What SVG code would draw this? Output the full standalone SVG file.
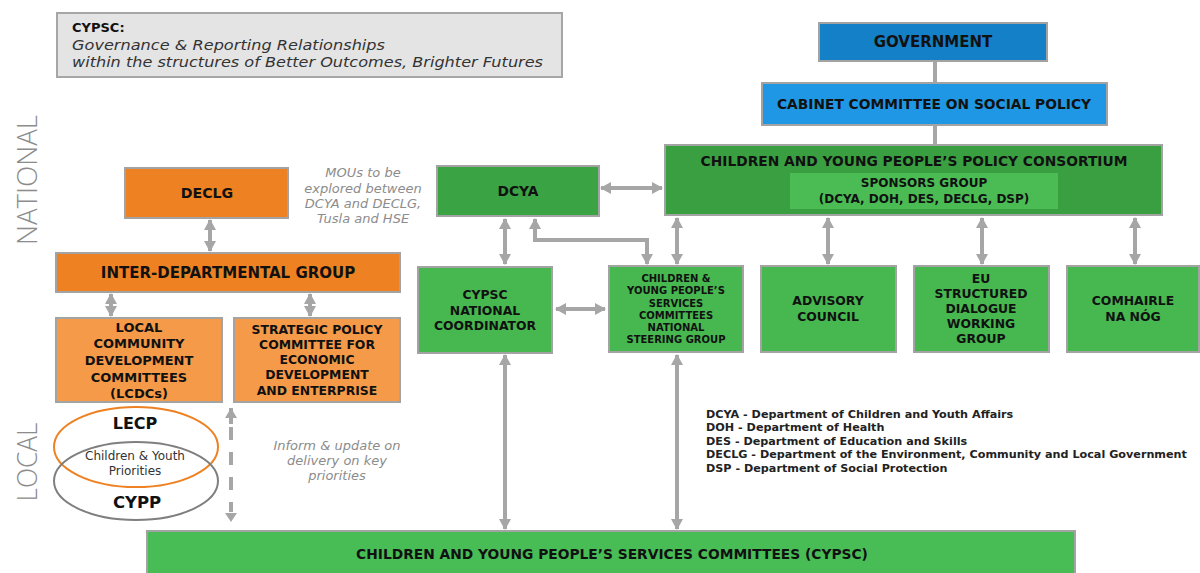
<svg xmlns="http://www.w3.org/2000/svg" width="1200" height="573" viewBox="0 0 1200 573">
<defs>
<marker id="ah" markerUnits="userSpaceOnUse" markerWidth="12" markerHeight="12" viewBox="0 0 12 12" refX="10" refY="6" orient="auto-start-reverse"><path d="M0,0 L11,6 L0,12 Z" fill="#a6a6a6"/></marker>
</defs>
<style>
.box{stroke:#a3a3a3;stroke-width:2}
.t{font-family:"DejaVu Sans","Open Sans",sans-serif;font-weight:bold;fill:#111;text-anchor:middle}
.s14{font-size:13.8px}.s12{font-size:12.4px}.s10{font-size:10px}
.it{font-family:"DejaVu Sans",sans-serif;font-style:italic;font-size:13px;fill:#8c8c8c;text-anchor:middle}
.leg{font-family:"DejaVu Sans",sans-serif;font-weight:bold;font-size:11.2px;fill:#222}
.side{font-family:"Open Sans","DejaVu Sans",sans-serif;font-weight:300;font-size:27px;fill:#8c8c8c;text-anchor:middle}
.c{stroke:#a6a6a6;stroke-width:4;fill:none}
.d{marker-start:url(#ah);marker-end:url(#ah)}
</style>
<g id="title">
<rect x="57" y="13" width="505" height="64" fill="#e4e4e4" stroke="#a6a6a6" stroke-width="2"/>
<text x="72" y="32" font-family="DejaVu Sans, sans-serif" font-weight="bold" font-size="13px" fill="#111">CYPSC:</text>
<text x="72" y="50" font-family="DejaVu Sans, sans-serif" font-style="italic" font-size="14px" fill="#333" textLength="313" lengthAdjust="spacingAndGlyphs">Governance &amp; Reporting Relationships</text>
<text x="72" y="67" font-family="DejaVu Sans, sans-serif" font-style="italic" font-size="14px" fill="#333" textLength="471" lengthAdjust="spacingAndGlyphs">within the structures of Better Outcomes, Brighter Futures</text>
</g>
<g id="side-labels">
<text class="side" transform="translate(37,180) rotate(-90)" textLength="130" lengthAdjust="spacingAndGlyphs">NATIONAL</text>
<text class="side" transform="translate(37,462) rotate(-90)" textLength="79" lengthAdjust="spacingAndGlyphs">LOCAL</text>
</g>
<g id="connectors">
<line class="c" x1="935" y1="61" x2="935" y2="84" stroke-width="3"/>
<line class="c" x1="935" y1="125" x2="935" y2="146" stroke-width="3"/>
<line class="c d" x1="601" y1="188" x2="662" y2="188"/>
<line class="c d" x1="505" y1="219" x2="505" y2="264"/>
<path class="c d" d="M535,219 V240 H647 V264"/>
<line class="c d" x1="677" y1="218" x2="677" y2="264"/>
<line class="c d" x1="828" y1="218" x2="828" y2="264"/>
<line class="c d" x1="982" y1="218" x2="982" y2="264"/>
<line class="c d" x1="1135" y1="218" x2="1135" y2="264"/>
<line class="c d" x1="556" y1="309" x2="605" y2="309"/>
<line class="c d" x1="505" y1="355" x2="505" y2="529" stroke-width="3"/>
<line class="c d" x1="677" y1="355" x2="677" y2="529" stroke-width="3"/>
<line class="c d" x1="210" y1="220" x2="210" y2="251"/>
<line class="c d" x1="111" y1="294" x2="111" y2="316"/>
<line class="c d" x1="310" y1="294" x2="310" y2="316"/>
<line class="c" x1="231" y1="408" x2="231" y2="424"/>
<path d="M225,418 L231,408 L237,418 Z" fill="#a6a6a6"/>
<line class="c" x1="231" y1="427" x2="231" y2="512" stroke-dasharray="13,12"/>
<path d="M225,513 L231,522 L237,513 Z" fill="#a6a6a6"/>
</g>
<g id="government">
<rect class="box" x="819" y="23" width="228" height="38" fill="#1480c8"/>
<text class="t" font-size="15px" x="933" y="47">GOVERNMENT</text>
</g>
<g id="cabinet">
<rect class="box" x="762" y="83" width="345" height="42" fill="#1f97e4"/>
<text class="t s14" x="934" y="109">CABINET COMMITTEE ON SOCIAL POLICY</text>
</g>
<g id="consortium">
<rect class="box" x="665" y="145" width="497" height="70" fill="#3a9f41"/>
<text class="t s14" x="914" y="166">CHILDREN AND YOUNG PEOPLE’S POLICY CONSORTIUM</text>
<rect x="790" y="173" width="268" height="36" fill="#4bbb54"/>
<text class="t" font-size="12px" x="924" y="187">SPONSORS GROUP</text>
<text class="t" font-size="12px" x="924" y="203">(DCYA, DOH, DES, DECLG, DSP)</text>
</g>
<g id="dcya">
<rect class="box" x="437" y="166" width="162" height="50" fill="#3aa444"/>
<text class="t s14" x="518" y="196">DCYA</text>
</g>
<g id="declg">
<rect class="box" x="125" y="168" width="163" height="50" fill="#ee8121"/>
<text class="t" font-size="14.2px" x="207" y="198">DECLG</text>
</g>
<g id="mou-note">
<text class="it" x="363" y="177">MOUs to be</text>
<text class="it" x="363" y="193">explored between</text>
<text class="it" x="363" y="208">DCYA and DECLG,</text>
<text class="it" x="363" y="223">Tusla and HSE</text>
</g>
<g id="interdept">
<rect class="box" x="56" y="253" width="344" height="39" fill="#ee8121"/>
<text class="t" font-size="15px" x="228" y="278">INTER-DEPARTMENTAL GROUP</text>
</g>
<g id="lcdc">
<rect class="box" x="56" y="318" width="166" height="84" fill="#f59a48"/>
<text class="t" font-size="13px" x="139" y="332">LOCAL</text>
<text class="t" font-size="13px" x="139" y="348">COMMUNITY</text>
<text class="t" font-size="13px" x="139" y="365">DEVELOPMENT</text>
<text class="t" font-size="13px" x="139" y="382">COMMITTEES</text>
<text class="t" font-size="13px" x="139" y="398">(LCDCs)</text>
</g>
<g id="spc">
<rect class="box" x="234" y="318" width="166" height="84" fill="#f59a48"/>
<text class="t s12" x="317" y="334">STRATEGIC POLICY</text>
<text class="t s12" x="317" y="349">COMMITTEE FOR</text>
<text class="t s12" x="317" y="364">ECONOMIC</text>
<text class="t s12" x="317" y="379">DEVELOPMENT</text>
<text class="t s12" x="317" y="395">AND ENTERPRISE</text>
</g>
<g id="national-coordinator">
<rect class="box" x="418" y="267" width="134" height="86" fill="#47b74f"/>
<text class="t s12" x="485" y="299">CYPSC</text>
<text class="t s12" x="485" y="315">NATIONAL</text>
<text class="t s12" x="485" y="330">COORDINATOR</text>
</g>
<g id="steering-group">
<rect class="box" x="609" y="266" width="134" height="86" fill="#47b74f"/>
<text class="t s10" x="676" y="282">CHILDREN &amp;</text>
<text class="t s10" x="676" y="294">YOUNG PEOPLE’S</text>
<text class="t s10" x="676" y="307">SERVICES</text>
<text class="t s10" x="676" y="319">COMMITTEES</text>
<text class="t s10" x="676" y="331">NATIONAL</text>
<text class="t s10" x="676" y="343">STEERING GROUP</text>
</g>
<g id="advisory">
<rect class="box" x="761" y="266" width="135" height="86" fill="#47b74f"/>
<text class="t s12" x="828" y="305">ADVISORY</text>
<text class="t s12" x="828" y="321">COUNCIL</text>
</g>
<g id="eu-dialogue">
<rect class="box" x="914" y="266" width="135" height="86" fill="#47b74f"/>
<text class="t s12" x="981" y="283">EU</text>
<text class="t s12" x="981" y="298">STRUCTURED</text>
<text class="t s12" x="981" y="313">DIALOGUE</text>
<text class="t s12" x="981" y="328">WORKING</text>
<text class="t s12" x="981" y="343">GROUP</text>
</g>
<g id="comhairle">
<rect class="box" x="1067" y="266" width="132" height="86" fill="#47b74f"/>
<text class="t s12" x="1133" y="305">COMHAIRLE</text>
<text class="t s12" x="1133" y="321">NA NÓG</text>
</g>
<g id="lecp-cypp">
<ellipse cx="136" cy="447" rx="82" ry="40" fill="none" stroke="#ee8121" stroke-width="2"/>
<ellipse cx="136" cy="481" rx="82" ry="39" fill="none" stroke="#7f7f7f" stroke-width="2"/>
<text class="t" font-size="16px" x="135" y="429">LECP</text>
<text x="135" y="460" font-family="DejaVu Sans, sans-serif" font-size="12px" fill="#333" text-anchor="middle">Children &amp; Youth</text>
<text x="135" y="475" font-family="DejaVu Sans, sans-serif" font-size="12px" fill="#333" text-anchor="middle">Priorities</text>
<text class="t" font-size="16.5px" x="137" y="508">CYPP</text>
</g>
<g id="inform-note">
<text class="it" x="337" y="450">Inform &amp; update on</text>
<text class="it" x="337" y="465">delivery on key</text>
<text class="it" x="337" y="480">priorities</text>
</g>
<g id="legend">
<text class="leg" x="706" y="418">DCYA - Department of Children and Youth Affairs</text>
<text class="leg" x="706" y="431">DOH - Department of Health</text>
<text class="leg" x="706" y="445">DES - Department of Education and Skills</text>
<text class="leg" x="706" y="458">DECLG - Department of the Environment, Community and Local Government</text>
<text class="leg" x="706" y="472">DSP - Department of Social Protection</text>
</g>
<g id="cypsc">
<rect class="box" x="147" y="531" width="928" height="48" fill="#48bd56"/>
<text class="t s14" x="612" y="559">CHILDREN AND YOUNG PEOPLE’S SERVICES COMMITTEES (CYPSC)</text>
</g>
</svg>
